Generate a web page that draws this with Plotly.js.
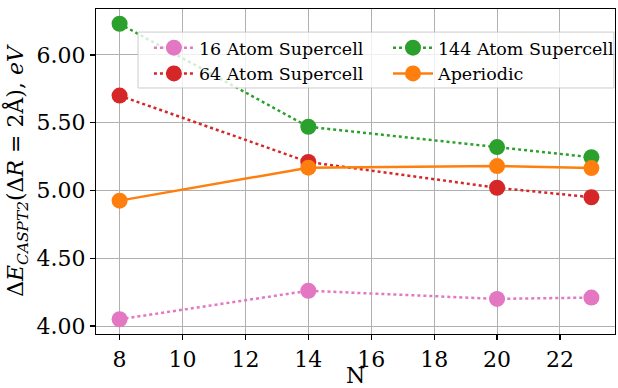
<!DOCTYPE html>
<html><head><meta charset="utf-8">
<script src="https://cdn.plot.ly/plotly-3.0.1.min.js"></script>
<style>html,body{margin:0;padding:0;background:#fff}</style>
</head><body><div id="chart" style="width:618px;height:388px"></div>
<script>
const N = [8, 14, 20, 23];
const atom16 = [4.05, 4.26, 4.20, 4.21];
const atom64 = [5.70, 5.21, 5.02, 4.95];
const atom144 = [6.23, 5.47, 5.32, 5.245];
const aperiodic = [4.925, 5.168, 5.18, 5.165];
const names = ['16 Atom Supercell', '64 Atom Supercell', '144 Atom Supercell', 'Aperiodic'];
const colors = ['#e377c2', '#d62728', '#2ca02c', '#ff7f0e'];
const series = [atom16, atom64, atom144, aperiodic];
const dashes = ['dot', 'dot', 'dot', 'solid'];
const legendIds = ['legend', 'legend', 'legend2', 'legend2'];

const traces = series.map((ys, i) => ({
  x: N, y: ys, name: names[i], type: 'scatter', mode: 'lines+markers',
  line: {color: colors[i], width: 2.5, dash: dashes[i]},
  marker: {color: colors[i], size: 16},
  legend: legendIds[i]
}));

const font = {family: 'DejaVu Serif', size: 22, color: '#000'};
const legFont = {family: 'DejaVu Serif', size: 17.5, color: '#000'};
const legBase = {
  orientation: 'v', yanchor: 'top', xanchor: 'left', y: 0.936,
  bgcolor: 'rgba(0,0,0,0)', borderwidth: 0, font: legFont,
  tracegroupgap: 0, traceorder: 'normal', itemwidth: 40
};
const layout = {
  width: 618, height: 388,
  margin: {l: 96, r: 3, t: 9, b: 54, autoexpand: false},
  paper_bgcolor: '#fff', plot_bgcolor: '#fff',
  font: font,
  showlegend: true,
  legend: Object.assign({}, legBase, {x: 0.102}),
  legend2: Object.assign({}, legBase, {x: 0.5626}),
  shapes: [{
    type: 'rect', xref: 'paper', yref: 'paper', layer: 'above',
    x0: 0.081, x1: 0.998, y0: 0.757, y1: 0.929,
    fillcolor: 'rgba(255,255,255,0.8)', line: {color: '#cccccc', width: 1}
  }],
  xaxis: {
    range: [7.25, 23.75], dtick: 2, tick0: 0,
    showgrid: true, gridcolor: '#b0b0b0', gridwidth: 1,
    showline: true, linecolor: '#000', linewidth: 1.2, mirror: true,
    ticks: 'outside', ticklen: 5, tickcolor: '#000', tickwidth: 1.2,
    zeroline: false, tickfont: font, automargin: false,
    title: {text: 'N', font: font, standoff: 10}
  },
  yaxis: {
    range: [3.941, 6.339], dtick: 0.5, tick0: 0, tickformat: '.2f',
    showgrid: true, gridcolor: '#b0b0b0', gridwidth: 1,
    showline: true, linecolor: '#000', linewidth: 1.2, mirror: true,
    ticks: 'outside', ticklen: 5, tickcolor: '#000', tickwidth: 1.2,
    zeroline: false, tickfont: font, automargin: false,
    title: {text: 'Δ<i>E</i><sub><i>CASPT2</i></sub>(Δ<i>R</i> = 2Å), <i>eV</i>', font: font, standoff: 6}
  }
};
Plotly.newPlot('chart', traces, layout, {displayModeBar: false, staticPlot: true});
</script></body></html>
